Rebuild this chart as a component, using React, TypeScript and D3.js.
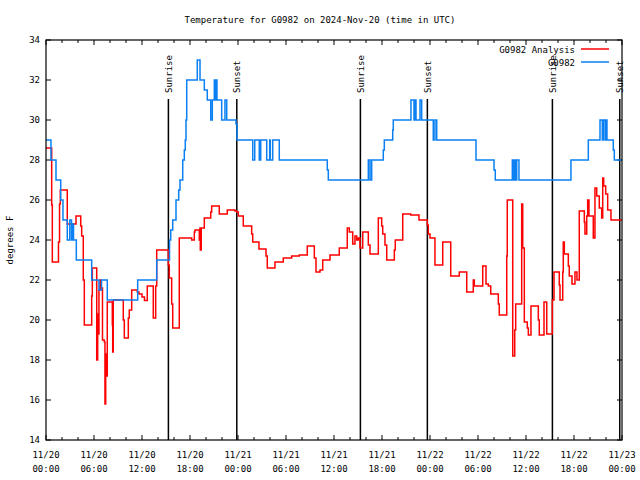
import React from 'react';
import * as d3 from 'd3';

const START = Date.UTC(2024, 10, 20, 0, 0);
const HOURS_SPAN = 72;

const titleText = 'Temperature for G0982 on 2024-Nov-20 (time in UTC)';
const yLabelText = 'degrees F';
const seriesNames = ['G0982 Analysis', 'G0982'];
const yTicks = [14, 16, 18, 20, 22, 24, 26, 28, 30, 32, 34];

// Observed (blue) step series: hours since 2024-11-20 00:00 UTC, temperature F
const obsHours = [0, 0.62, 1.25, 1.84, 2.12, 2.66, 2.97, 3.19, 3.31, 3.44, 3.79, 5.71, 6.62, 6.94, 7.66, 11.46, 13.84, 15.44, 15.59, 15.84, 16.25, 16.59, 16.75, 17.09, 17.29, 17.41, 17.5, 17.59, 18.91, 19.25, 19.79, 20.16, 20.59, 20.79, 21.04, 21.12, 21.25, 21.37, 21.96, 22.37, 22.59, 23.75, 23.87, 25.84, 26.09, 26.66, 26.84, 27.59, 27.96, 28.04, 28.34, 29.16, 35.16, 35.29, 40.29, 40.5, 40.71, 42.16, 42.29, 43.34, 43.41, 45.62, 46.0, 46.12, 46.25, 46.75, 46.96, 48.41, 48.62, 48.84, 53.75, 56.0, 56.16, 58.29, 58.41, 58.54, 58.71, 58.84, 59.12, 65.62, 67.79, 69.25, 69.54, 69.66, 69.88, 69.96, 70.12, 70.91, 71.04];
const obsTemps = [29, 28, 27, 26, 25, 24, 25, 24, 24.8, 24, 23, 22, 21.5, 22, 21, 22, 23, 24, 24.5, 25, 26, 26.5, 27, 28, 28.5, 29, 30, 32, 33, 32, 31.5, 31, 30, 31, 32, 31, 32, 31, 30, 31, 30, 29.8, 29, 28, 29, 28, 29, 28, 29, 28, 29, 28, 27.5, 27, 28, 27, 28, 28.5, 29, 29.5, 30, 31, 30, 31, 30, 31, 30, 29, 30, 29, 28, 27.5, 27, 28, 27, 28, 27, 28, 27, 28, 29, 30, 29, 30, 29, 30, 29, 28.5, 28];

// Analysis (red) step series
const anaHours = [0, 0.71, 0.79, 1.56, 1.69, 1.79, 2.66, 3.75, 4.34, 4.46, 4.66, 4.79, 5.71, 5.79, 6.34, 6.46, 6.54, 6.62, 6.75, 6.87, 7.06, 7.29, 7.37, 7.46, 7.54, 7.66, 8.29, 8.34, 8.41, 9.66, 9.79, 10.29, 10.41, 10.71, 11.41, 11.62, 12.0, 12.31, 12.66, 13.41, 13.71, 13.84, 15.29, 15.41, 15.71, 15.84, 16.66, 18.21, 18.54, 18.62, 19.16, 19.25, 19.29, 19.41, 19.79, 20.59, 20.71, 21.66, 22.66, 23.62, 23.84, 24.04, 24.66, 25.71, 25.84, 26.62, 27.5, 27.66, 28.62, 29.66, 30.71, 31.66, 32.66, 33.54, 33.75, 34.25, 34.59, 35.5, 36.66, 37.66, 37.91, 38.34, 38.62, 38.84, 39.04, 39.25, 39.59, 40.29, 40.5, 41.54, 41.96, 42.09, 42.37, 42.59, 43.54, 43.66, 44.59, 45.59, 46.62, 47.66, 47.79, 48.0, 48.62, 49.59, 50.59, 51.66, 52.59, 53.41, 53.54, 54.59, 55.0, 55.29, 55.59, 56.54, 56.66, 57.59, 57.66, 58.34, 58.59, 58.71, 59.46, 59.59, 59.79, 60.16, 60.29, 60.62, 61.54, 61.66, 62.25, 62.59, 63.29, 63.5, 64.16, 64.25, 64.59, 64.66, 64.79, 65.29, 65.41, 65.75, 66.12, 66.37, 66.66, 67.29, 67.37, 67.59, 67.71, 67.87, 68.41, 68.62, 68.84, 69.16, 69.46, 69.59, 69.71, 69.96, 70.21, 70.62];
const anaTemps = [28.6, 25.75, 22.9, 23.9, 25.8, 26.5, 24.8, 25.2, 24.7, 24.2, 22, 19.75, 21.2, 22.6, 18.0, 20.3, 19.3, 21.5, 22, 21.6, 19.0, 18.9, 15.8, 18.3, 17.2, 20.9, 19.75, 18.4, 21.0, 20.0, 19.1, 20.1, 20.5, 21.5, 21.4, 21.3, 21.15, 20.97, 21.7, 20.1, 21.7, 23.5, 22.75, 22.1, 20.8, 19.6, 24.1, 24.0, 24.4, 24.5, 24.0, 24.6, 23.5, 24.6, 25.1, 25.4, 25.7, 25.3, 25.5, 25.45, 25.4, 25.2, 24.7, 24.3, 23.9, 23.55, 23.2, 22.6, 22.9, 23.1, 23.2, 23.25, 23.7, 23.1, 22.4, 22.5, 23.0, 23.25, 23.6, 24.6, 24.4, 23.8, 24.2, 24.0, 24.1, 23.6, 24.4, 23.75, 23.3, 25.1, 24.7, 24.3, 23.75, 23.0, 23.5, 24.0, 25.3, 25.25, 25.0, 24.75, 24.3, 24.1, 22.75, 23.9, 22.2, 22.4, 21.4, 22.0, 21.7, 22.7, 21.8, 21.7, 21.3, 20.8, 20.25, 23.2, 26.0, 18.2, 19.5, 20.8, 25.8, 23.6, 19.9, 19.6, 19.25, 20.7, 20.0, 19.25, 20.9, 19.3, 21.0, 22.4, 21.75, 21.0, 22.4, 23.9, 23.3, 22.7, 22.2, 21.8, 22.4, 22.0, 25.45, 24.9, 24.3, 25.2, 26.0, 25.2, 24.1, 26.6, 26.2, 25.6, 25.1, 27.1, 26.7, 26.3, 25.5, 25.0];

const sunHours = [15.3, 23.85, 39.3, 47.67, 63.3, 71.72];
const sunLabels = ['Sunrise', 'Sunset', 'Sunrise', 'Sunset', 'Sunrise', 'Sunset'];

const W = 640;
const H = 480;
const M = { left: 46, right: 18, top: 40, bottom: 40 };
const FONT = 'DejaVu Sans Mono, monospace';
const RED = '#ff0000';
const BLUE = '#0a80f2';

const toDate = (h: number) => new Date(START + h * 3600 * 1000);

export default function App() {
  const x = d3
    .scaleUtc()
    .domain([toDate(0), toDate(HOURS_SPAN)])
    .range([M.left, W - M.right]);
  const y = d3.scaleLinear().domain([14, 34]).range([H - M.bottom, M.top]);

  type P = { t: Date; v: number };
  const mk = (hs: number[], vs: number[]): P[] => {
    const pts = hs.map((h, i) => ({ t: toDate(h), v: vs[i] }));
    pts.push({ t: toDate(HOURS_SPAN), v: vs[vs.length - 1] });
    return pts;
  };
  const line = d3
    .line<P>()
    .x((d) => x(d.t))
    .y((d) => y(d.v))
    .curve(d3.curveStepAfter);

  const anaPath = line(mk(anaHours, anaTemps)) || '';
  const obsPath = line(mk(obsHours, obsTemps)) || '';

  const majorX = x.ticks(d3.utcHour.every(6)!);
  const minorX = x.ticks(d3.utcHour.every(2)!).filter((d) => d.getUTCHours() % 6 !== 0);
  const fmtDay = d3.utcFormat('%m/%d');
  const fmtTime = d3.utcFormat('%H:%M');

  const x0 = M.left;
  const x1 = W - M.right;
  const y0 = H - M.bottom;
  const y1 = M.top;

  return (
    <svg
      width={W}
      height={H}
      style={{ position: 'absolute', left: 0, top: 0, background: '#fff' }}
      fontFamily={FONT}
      fontSize={9}
    >
      <rect x={0} y={0} width={W} height={H} fill="#fff" />
      <text x={W / 2} y={23} textAnchor="middle" fill="#000">
        {titleText}
      </text>

      {/* y ticks */}
      {yTicks.map((t) => (
        <g key={'y' + t}>
          <line x1={x0} x2={x0 + 5} y1={y(t)} y2={y(t)} stroke="#000" />
          <line x1={x1} x2={x1 - 5} y1={y(t)} y2={y(t)} stroke="#000" />
          <text x={x0 - 6} y={y(t)} dy="0.35em" textAnchor="end" fill="#000">
            {t}
          </text>
        </g>
      ))}

      {/* x ticks */}
      {majorX.map((d, i) => (
        <g key={'xm' + i}>
          <line x1={x(d)} x2={x(d)} y1={y0} y2={y0 - 5} stroke="#000" />
          <line x1={x(d)} x2={x(d)} y1={y1} y2={y1 + 5} stroke="#000" />
          <text x={x(d)} y={y0 + 18} textAnchor="middle" fill="#000">
            {fmtDay(d)}
          </text>
          <text x={x(d)} y={y0 + 32} textAnchor="middle" fill="#000">
            {fmtTime(d)}
          </text>
        </g>
      ))}
      {minorX.map((d, i) => (
        <g key={'xn' + i}>
          <line x1={x(d)} x2={x(d)} y1={y0} y2={y0 - 3} stroke="#000" />
          <line x1={x(d)} x2={x(d)} y1={y1} y2={y1 + 3} stroke="#000" />
        </g>
      ))}

      <text
        transform={`translate(13,${(y0 + y1) / 2}) rotate(-90)`}
        textAnchor="middle"
        fill="#000"
      >
        {yLabelText}
      </text>

      {/* sunrise / sunset */}
      {sunHours.map((h, i) => {
        const sx = x(toDate(h));
        return (
          <g key={'s' + i}>
            <line x1={sx} x2={sx} y1={99} y2={y0} stroke="#000" strokeWidth={1.5} />
            <text
              transform={`translate(${sx + 3.5},93) rotate(-90)`}
              textAnchor="start"
              fill="#000"
            >
              {sunLabels[i]}
            </text>
          </g>
        );
      })}

      <path d={anaPath} fill="none" stroke={RED} strokeWidth={1.5} />
      <path d={obsPath} fill="none" stroke={BLUE} strokeWidth={1.5} />

      {/* legend */}
      <text x={575} y={53} textAnchor="end" fill="#000">
        {seriesNames[0]}
      </text>
      <line x1={581} x2={609} y1={49} y2={49} stroke={RED} strokeWidth={1.5} />
      <text x={575} y={66} textAnchor="end" fill="#000">
        {seriesNames[1]}
      </text>
      <line x1={581} x2={609} y1={62} y2={62} stroke={BLUE} strokeWidth={1.5} />

      <rect
        x={x0}
        y={y1}
        width={x1 - x0}
        height={y0 - y1}
        fill="none"
        stroke="#000"
        strokeWidth={1.2}
      />
    </svg>
  );
}
